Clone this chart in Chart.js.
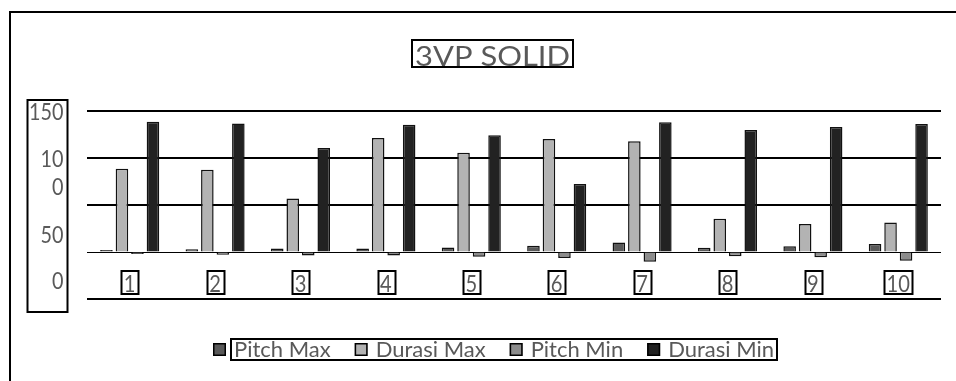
<!DOCTYPE html>
<html>
<head>
<meta charset="utf-8">
<script src="https://cdn.jsdelivr.net/npm/chart.js@4"></script>
<style>
  html, body { margin: 0; padding: 0; background: #ffffff; }
  #wrap { width: 956px; height: 381px; }
</style>
</head>
<body>
<div id="wrap"><canvas id="c" width="956" height="381"></canvas></div>
<script>
const categories = ['1', '2', '3', '4', '5', '6', '7', '8', '9', '10'];
const pitchMax  = [20, 28, 38, 38, 49, 67, 102, 46, 60, 85];
const durasiMax = [886, 876, 570, 1213, 1056, 1202, 1177, 354, 298, 315];
const pitchMin  = [-20, -29, -36, -36, -50, -64, -103, -46, -57, -92];
const durasiMin = [1386, 1368, 1106, 1354, 1241, 723, 1379, 1298, 1330, 1362];
const seriesNames = ['Pitch Max', 'Durasi Max', 'Pitch Min', 'Durasi Min'];
const yTickLabels = ['150', '10', '0', '50', '0'];
const yTickLabelValues = [1480, 980, 690, 180, -310];
const chartTitle = '3VP SOLID';

const TEXT = '#595959';
const FONT = 'Lato, "Liberation Sans", sans-serif';

function drawScaledText(ctx, text, x, y, px, sx, align, baseline) {
  ctx.save();
  ctx.font = px + 'px ' + FONT;
  ctx.fillStyle = TEXT;
  ctx.textAlign = align;
  ctx.textBaseline = baseline;
  ctx.translate(x, y);
  ctx.scale(sx, 1);
  ctx.fillText(text, 0, 0);
  ctx.restore();
}

const decor = {
  id: 'decor',
  beforeDraw(chart) {
    const ctx = chart.ctx;
    ctx.save();
    ctx.fillStyle = '#ffffff';
    ctx.fillRect(0, 0, chart.width, chart.height);
    ctx.fillStyle = '#000000';
    ctx.fillRect(9, 11, chart.width - 9, 2);
    ctx.fillRect(9, 11, 2, chart.height - 11);
    ctx.restore();
  },
  afterDraw(chart) {
    const ctx = chart.ctx;
    const y = chart.scales.y, x = chart.scales.x;
    const zero = y.getPixelForValue(0);

    // Title
    ctx.save();
    ctx.font = '26px ' + FONT;
    const tw = ctx.measureText(chartTitle).width;
    ctx.restore();
    drawScaledText(ctx, chartTitle, 492.5, 65.5, 26, 155 / tw, 'center', 'alphabetic');
    ctx.save();
    ctx.strokeStyle = '#000';
    ctx.lineWidth = 2;
    ctx.strokeRect(412, 40, 161, 27);
    ctx.restore();

    // Y label box
    ctx.save();
    ctx.strokeStyle = '#000';
    ctx.lineWidth = 2;
    ctx.strokeRect(27.5, 100, 40, 212);
    ctx.restore();
    yTickLabels.forEach((t, i) => {
      drawScaledText(ctx, t, 63.5, y.getPixelForValue(yTickLabelValues[i]), 23, 0.86, 'right', 'middle');
    });

    // X labels with boxes
    categories.forEach((c, i) => {
      const cx = x.getPixelForValue(i);
      ctx.save();
      ctx.font = '24px ' + FONT;
      const w = ctx.measureText(c).width * 0.84;
      ctx.restore();
      const bw = w + 5;
      ctx.save();
      ctx.strokeStyle = '#000';
      ctx.lineWidth = 2;
      ctx.strokeRect(Math.round(cx - bw / 2) + 0.5, zero + 19, Math.round(bw), 23);
      ctx.restore();
      drawScaledText(ctx, c, cx, zero + 40, 24, 0.84, 'center', 'alphabetic');
    });

    // Legend
    ctx.save();
    ctx.font = '22px ' + FONT;
    let lx = 213;
    const ly = 343;
    let textStart = null, textEnd = 0;
    chart.data.datasets.forEach((ds) => {
      ctx.fillStyle = ds.backgroundColor;
      ctx.fillRect(lx, ly, 13, 13);
      ctx.strokeStyle = '#000';
      ctx.lineWidth = 1.5;
      ctx.strokeRect(lx + 0.75, ly + 0.75, 11.5, 11.5);
      const tx = lx + 13 + 8;
      if (textStart === null) textStart = tx;
      ctx.fillStyle = TEXT;
      ctx.textAlign = 'left';
      ctx.textBaseline = 'middle';
      ctx.fillText(ds.label, tx, ly + 7);
      const w = ctx.measureText(ds.label).width;
      textEnd = tx + w;
      lx = tx + w + 24;
    });
    ctx.strokeStyle = '#000';
    ctx.lineWidth = 2;
    ctx.strokeRect(textStart - 3, 339, textEnd - textStart + 6, 21);
    ctx.restore();
  }
};

const colors = ['#595959', '#b3b3b3', '#8c8c8c', '#222222'];
const values = [pitchMax, durasiMax, pitchMin, durasiMin];

new Chart(document.getElementById('c'), {
  type: 'bar',
  data: {
    labels: categories,
    datasets: seriesNames.map((n, i) => ({
      label: n,
      data: values[i],
      backgroundColor: colors[i],
      borderColor: '#111111',
      borderWidth: 1.5,
      categoryPercentage: 0.726,
      barPercentage: 0.81
    }))
  },
  options: {
    responsive: false,
    animation: false,
    layout: { padding: { left: 87, right: 15, top: 111, bottom: 82 } },
    plugins: {
      legend: { display: false },
      title: { display: false },
      tooltip: { enabled: false }
    },
    scales: {
      x: { display: false },
      y: {
        min: -500,
        max: 1500,
        ticks: { display: false, stepSize: 500 },
        border: { display: false },
        grid: {
          color: '#000000',
          lineWidth: (c) => (c.tick && c.tick.value === 0 ? 1 : 2),
          drawTicks: false
        },
        afterFit(s) { s.width = 0; }
      }
    }
  },
  plugins: [decor]
});
</script>
</body>
</html>
